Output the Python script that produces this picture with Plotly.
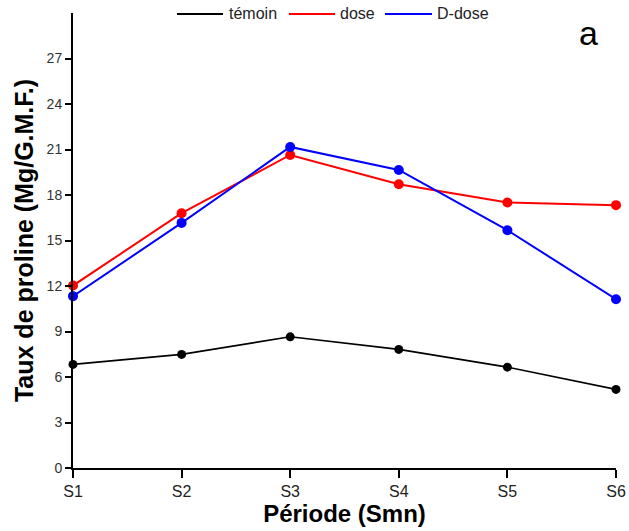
import plotly.graph_objects as go

periods = ["S1", "S2", "S3", "S4", "S5", "S6"]
temoin = [6.83, 7.49, 8.65, 7.82, 6.65, 5.18]
dose = [12.03, 16.8, 20.64, 18.71, 17.5, 17.33]
d_dose = [11.33, 16.16, 21.17, 19.65, 15.68, 11.13]
y_ticks = [0, 3, 6, 9, 12, 15, 18, 21, 24, 27]
series_names = ["témoin", "dose", "D-dose"]
series_colors = ["black", "red", "blue"]

xs = list(range(len(periods)))
series = [
    (series_names[0], temoin, series_colors[0], 1.6, 9),
    (series_names[1], dose, series_colors[1], 2, 10),
    (series_names[2], d_dose, series_colors[2], 2, 10),
]

fig = go.Figure()
for name, vals, col, lw, ms in series:
    fig.add_trace(go.Scatter(x=xs, y=vals, mode="lines+markers", name=name,
                             line=dict(color=col, width=lw),
                             marker=dict(color=col, size=ms),
                             cliponaxis=False, showlegend=False))

L, R, T, B = 73, 13, 13, 63
W, H = 629, 531
pw, ph = W - L - R, H - T - B


def px(x):
    return (x - L) / pw


def py(y):
    return (H - B - y) / ph


# manual legend (line + label), pixel positions
legend_items = [(177, 223, 227), (289, 335, 338), (385, 432, 435)]
shapes = []
annotations = []
for (x0, x1, xt), name, col in zip(legend_items, series_names, series_colors):
    shapes.append(dict(type="line", xref="paper", yref="paper",
                       x0=px(x0), x1=px(x1), y0=py(14), y1=py(14),
                       line=dict(color=col, width=2)))
    annotations.append(dict(text=name, x=px(xt), y=py(14), xref="paper", yref="paper",
                            xanchor="left", yanchor="middle", showarrow=False,
                            font=dict(size=16, color="#222")))
annotations.append(dict(text="a", x=px(588), y=py(33), xref="paper", yref="paper",
                        xanchor="center", yanchor="middle", showarrow=False,
                        font=dict(size=34, color="black")))

fig.update_layout(
    width=W, height=H,
    margin=dict(l=L, r=R, t=T, b=B, autoexpand=False),
    plot_bgcolor="white", paper_bgcolor="white",
    font=dict(family="Liberation Sans, Arial, sans-serif", color="#222"),
    showlegend=False,
    shapes=shapes,
    annotations=annotations,
)

fig.update_xaxes(range=[0, 5], tickvals=xs, ticktext=periods, showgrid=False, zeroline=False,
                 showline=True, linecolor="black", linewidth=2, ticks="outside",
                 ticklen=8, tickwidth=2, tickcolor="black",
                 tickfont=dict(size=16, color="#222"),
                 title=dict(text="<b>Période (Smn)</b>", font=dict(size=24, color="black"), standoff=0))
fig.update_yaxes(range=[0, 30], tickvals=y_ticks, showgrid=False, zeroline=False,
                 showline=True, linecolor="black", linewidth=2, ticks="outside",
                 ticklen=6, tickwidth=1.5, tickcolor="black",
                 tickfont=dict(size=14, color="#333"),
                 title=dict(text="<b>Taux de proline (Mg/G.M.F.)</b>", font=dict(size=25, color="black"), standoff=6))

fig.write_html("out.html", config={"displayModeBar": False},
               post_script="document.body.style.margin='0';document.body.style.overflow='hidden';")
